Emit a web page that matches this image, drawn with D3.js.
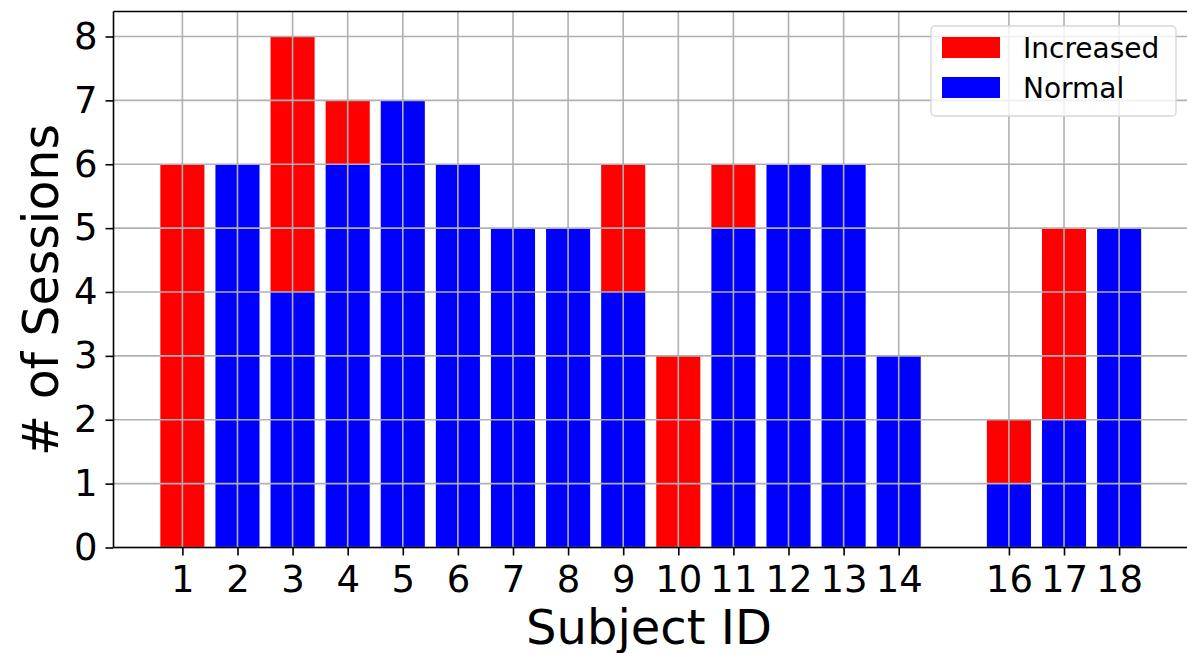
<!DOCTYPE html>
<html>
<head>
<meta charset="utf-8">
<script src="https://cdn.jsdelivr.net/npm/d3@7"></script>
<style>
  html, body { margin: 0; padding: 0; background: #fff; }
  svg { display: block; font-family: "DejaVu Sans", sans-serif; }
</style>
</head>
<body>
<svg id="chart" width="1187" height="653"></svg>
<script>
// Session counts per subject (subject 15 has no sessions recorded)
const subjects = [1, 2, 3, 4, 5, 6, 7, 8, 9, 10, 11, 12, 13, 14, 16, 17, 18];
const normal    = [0, 6, 4, 6, 7, 6, 5, 5, 4, 0, 5, 6, 6, 3, 1, 2, 5];
const increased = [6, 0, 4, 1, 0, 0, 0, 0, 2, 3, 1, 0, 0, 0, 1, 3, 0];
const yTicks = [0, 1, 2, 3, 4, 5, 6, 7, 8];
const seriesNames = ["Increased", "Normal"];
const seriesColors = ["#ff0000", "#0000ff"];

const svg = d3.select("#chart");
const plotLeft = 113.5, plotTop = 11.5, plotBottom = 547.5, plotRight = 1188;

const x = d3.scaleLinear().domain([-0.25, 19.25]).range([plotLeft, plotRight]);
const y = d3.scaleLinear().domain([0, 8.4]).range([plotBottom, plotBottom - 8.4 * 63.875]);
const barW = x(0.8) - x(0);

// Stacked bars: Normal at the base, Increased on top
const rows = subjects.map((s, i) => ({ s, n: normal[i], inc: increased[i] }));
const bars = svg.append("g");
bars.selectAll("rect.normal").data(rows).join("rect")
  .attr("class", "normal")
  .attr("x", d => x(d.s) - barW / 2)
  .attr("width", barW)
  .attr("y", d => y(d.n))
  .attr("height", d => y(0) - y(d.n))
  .attr("fill", seriesColors[1]);
bars.selectAll("rect.inc").data(rows).join("rect")
  .attr("class", "inc")
  .attr("x", d => x(d.s) - barW / 2)
  .attr("width", barW)
  .attr("y", d => y(d.n + d.inc))
  .attr("height", d => y(d.n) - y(d.n + d.inc))
  .attr("fill", seriesColors[0]);

// Grid lines
const grid = svg.append("g").attr("stroke", "#b0b0b0").attr("stroke-width", 1.6);
grid.selectAll("line.gx").data(subjects).join("line")
  .attr("x1", d => x(d)).attr("x2", d => x(d))
  .attr("y1", plotTop).attr("y2", plotBottom);
grid.selectAll("line.gy").data(yTicks).join("line")
  .attr("x1", plotLeft).attr("x2", plotRight)
  .attr("y1", d => y(d)).attr("y2", d => y(d));

// Axes
const xAxis = svg.append("g")
  .attr("transform", `translate(0,${plotBottom})`)
  .call(d3.axisBottom(x).tickValues(subjects).tickSize(8).tickPadding(10).tickFormat(d3.format("d")));
const yAxis = svg.append("g")
  .attr("transform", `translate(${plotLeft},0)`)
  .call(d3.axisLeft(y).tickValues(yTicks).tickSize(8).tickPadding(8).tickFormat(d3.format("d")));
[xAxis, yAxis].forEach(g => {
  g.select(".domain").remove();
  g.selectAll(".tick line").attr("stroke", "#000").attr("stroke-width", 1.6);
  g.selectAll(".tick text").attr("fill", "#000")
    .style("font-family", "DejaVu Sans").style("font-size", "37px");
});

// Spines
const spine = svg.append("g").attr("stroke", "#000").attr("stroke-width", 1.6);
spine.append("line").attr("x1", plotLeft).attr("x2", plotLeft).attr("y1", plotTop).attr("y2", plotBottom);
spine.append("line").attr("x1", plotLeft).attr("x2", plotRight).attr("y1", plotBottom).attr("y2", plotBottom);
spine.append("line").attr("x1", plotLeft).attr("x2", plotRight).attr("y1", plotTop).attr("y2", plotTop);

// Axis labels
svg.append("text")
  .attr("x", 649).attr("y", 644)
  .attr("text-anchor", "middle")
  .style("font-size", "48px")
  .text("Subject ID");
svg.append("text")
  .attr("transform", "translate(58,290) rotate(-90)")
  .attr("text-anchor", "middle")
  .style("font-size", "49px")
  .text("# of Sessions");

// Legend
const leg = svg.append("g");
leg.append("rect")
  .attr("x", 931).attr("y", 26).attr("width", 245).attr("height", 90)
  .attr("rx", 4)
  .attr("fill", "rgba(255,255,255,0.8)")
  .attr("stroke", "#d6d6d6").attr("stroke-width", 1.3);
seriesNames.forEach((name, i) => {
  leg.append("rect")
    .attr("x", 942).attr("y", 37 + i * 40)
    .attr("width", 58).attr("height", 21)
    .attr("fill", seriesColors[i]);
  leg.append("text")
    .attr("x", 1023).attr("y", 58 + i * 40)
    .style("font-size", "28px")
    .attr("fill", "#000")
    .text(name);
});
</script>
</body>
</html>
